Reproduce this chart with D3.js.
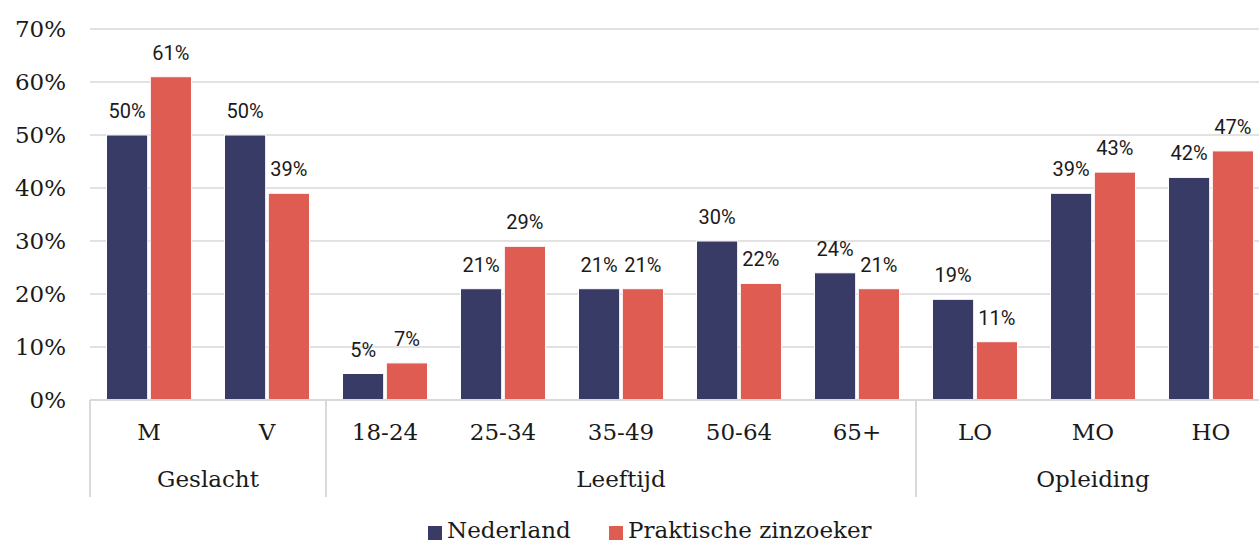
<!DOCTYPE html>
<html>
<head>
<meta charset="utf-8">
<script src="https://cdn.jsdelivr.net/npm/d3@7"></script>
<style>
  html, body { margin: 0; padding: 0; background: #fff; }
  svg { display: block; }
</style>
</head>
<body>
<svg id="chart" width="1259" height="542"></svg>
<script>
const categories = ["M", "V", "18-24", "25-34", "35-49", "50-64", "65+", "LO", "MO", "HO"];
const groups = [
  { name: "Geslacht", from: 0, to: 1 },
  { name: "Leeftijd", from: 2, to: 6 },
  { name: "Opleiding", from: 7, to: 9 }
];
const seriesNames = ["Nederland", "Praktische zinzoeker"];
const nederland = [50, 50, 5, 21, 21, 30, 24, 19, 39, 42];
const zinzoeker = [61, 39, 7, 29, 21, 22, 21, 11, 43, 47];
const yTicks = [0, 10, 20, 30, 40, 50, 60, 70];
const colors = ["#393B67", "#DE5C52"];

const svg = d3.select("#chart");
const W = 1259;
const serif = "'DejaVu Serif', serif";
const sans = "Roboto, 'Noto Sans', sans-serif";
const grid = "#d9d9d9";

const plotLeft = 90, plotRight = 1270, plotTop = 29, plotBottom = 400;
const y = d3.scaleLinear().domain([0, 70]).range([plotBottom, plotTop]);
const x0 = d3.scaleBand().domain(d3.range(categories.length)).range([plotLeft, plotRight]).padding(0);
const x1 = d3.scaleBand().domain(d3.range(seriesNames.length))
  .range([16.5, x0.bandwidth() - 16.5]).paddingInner(0.06);

// gridlines
svg.append("g").selectAll("line").data(yTicks.filter(d => d > 0)).join("line")
  .attr("x1", plotLeft).attr("x2", W)
  .attr("y1", d => y(d)).attr("y2", d => y(d))
  .attr("stroke", grid).attr("stroke-width", 1.5);

// y labels
svg.append("g").selectAll("text").data(yTicks).join("text")
  .attr("x", 66).attr("y", d => y(d))
  .attr("dy", "0.36em")
  .attr("text-anchor", "end")
  .attr("font-family", serif).attr("font-size", 23).attr("fill", "#1a1a1a")
  .text(d => d + "%");

// bars
const seriesData = [nederland, zinzoeker];
const barG = svg.append("g");
seriesData.forEach((vals, si) => {
  barG.append("g").selectAll("rect").data(vals).join("rect")
    .attr("x", (d, i) => x0(i) + x1(si))
    .attr("y", d => y(d))
    .attr("width", x1.bandwidth())
    .attr("height", d => y(0) - y(d))
    .attr("fill", colors[si])
    .attr("stroke", "#fff").attr("stroke-width", 1);
  barG.append("g").selectAll("text").data(vals).join("text")
    .attr("x", (d, i) => x0(i) + x1(si) + x1.bandwidth() / 2)
    .attr("y", d => y(d) - 17)
    .attr("text-anchor", "middle")
    .attr("font-family", sans).attr("font-size", 20).attr("fill", "#1a1a1a")
    .text(d => d + "%");
});

// x axis baseline
svg.append("line").attr("x1", plotLeft).attr("x2", W)
  .attr("y1", y(0)).attr("y2", y(0))
  .attr("stroke", grid).attr("stroke-width", 2);

// separators
const seps = [plotLeft].concat(groups.map(g => x0(g.to) + x0.bandwidth()));
svg.append("g").selectAll("line").data(seps).join("line")
  .attr("x1", d => d).attr("x2", d => d)
  .attr("y1", y(0)).attr("y2", 497)
  .attr("stroke", grid).attr("stroke-width", 2);

// category labels
svg.append("g").selectAll("text").data(categories).join("text")
  .attr("x", (d, i) => x0(i) + x0.bandwidth() / 2)
  .attr("y", 440)
  .attr("text-anchor", "middle")
  .attr("font-family", serif).attr("font-size", 23).attr("fill", "#1a1a1a")
  .text(d => d);

// group labels
svg.append("g").selectAll("text").data(groups).join("text")
  .attr("x", g => (x0(g.from) + x0(g.to) + x0.bandwidth()) / 2)
  .attr("y", 487)
  .attr("text-anchor", "middle")
  .attr("font-family", serif).attr("font-size", 23).attr("fill", "#1a1a1a")
  .text(g => g.name);

// legend
const legendX = [428, 609];
const leg = svg.append("g");
seriesNames.forEach((n, i) => {
  leg.append("rect").attr("x", legendX[i]).attr("y", 526)
    .attr("width", 14).attr("height", 14).attr("fill", colors[i]);
  leg.append("text").attr("x", legendX[i] + 19).attr("y", 538)
    .attr("font-family", serif).attr("font-size", 23).attr("fill", "#1a1a1a")
    .text(n);
});
</script>
</body>
</html>
